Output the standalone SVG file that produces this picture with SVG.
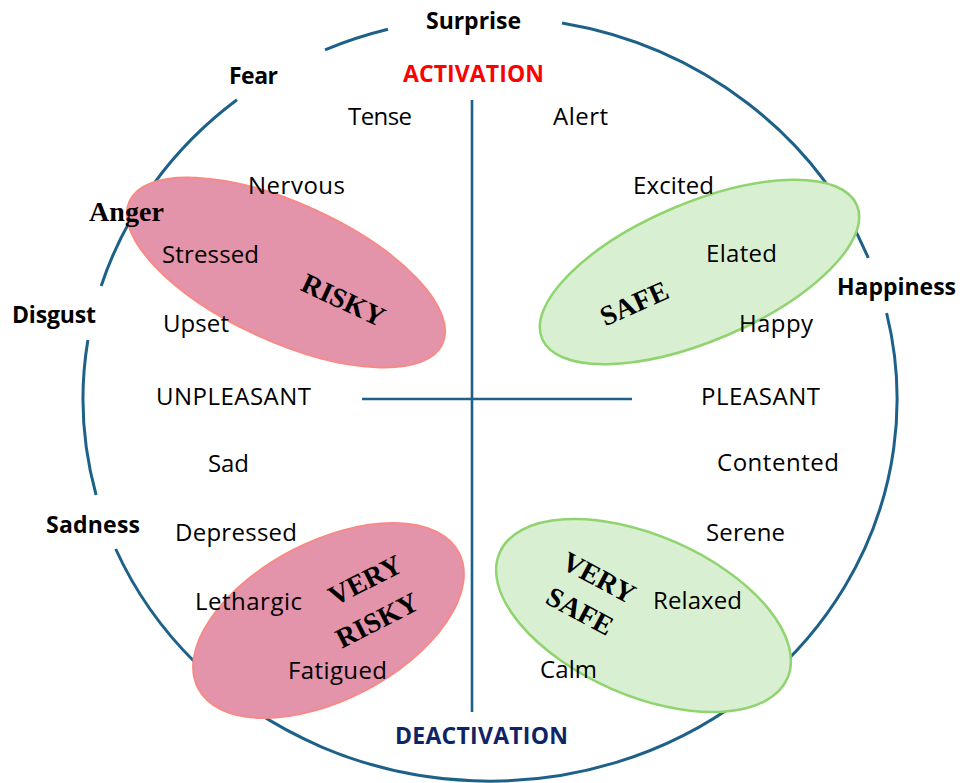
<svg xmlns="http://www.w3.org/2000/svg" width="962" height="783" viewBox="0 0 962 783">
  <style>
    .rim { fill: none; stroke: #1D6189; stroke-width: 3; }
    .axis { stroke: #1D6189; stroke-width: 2.6; }
    .risk { fill: #E393AA; stroke: #F88A85; stroke-width: 2; }
    .safe { fill: #D9EFD1; stroke: #8FD46F; stroke-width: 2.5; }
    .w { font-family: "Open Sans", Lato, "Liberation Sans", sans-serif; font-size: 24px; fill: #000; }
    .b { font-weight: bold; font-size: 23px; }
    .t { font-family: "Liberation Serif", "Times New Roman", serif; font-weight: bold; font-size: 28px; fill: #000; text-anchor: middle; }
  </style>

  <!-- outer emotion wheel, broken where the basic emotions sit -->
  <g id="wheel">
    <path class="rim" d="M562,23 A407,382 0 0 1 868.3,258
                         M886.6,313 A407,382 0 0 1 115.7,549
                         M96.1,495 A407,382 0 0 1 87.9,340
                         M101.2,286 A407,382 0 0 1 237,99.8
                         M325,49.8 A407,382 0 0 1 388,29.2"/>
  </g>

  <!-- valence / arousal axes -->
  <g id="connectors">
    <line class="axis" x1="472" y1="100" x2="472" y2="712"/>
    <line class="axis" x1="362" y1="399" x2="632" y2="399"/>
  </g>

  <!-- risk zones -->
  <g id="zone-risky">
    <ellipse class="risk" cx="286" cy="272.5" rx="172" ry="69" transform="rotate(24.5 286 272.5)"/>
  </g>
  <g id="zone-safe">
    <ellipse class="safe" cx="699.5" cy="272" rx="171" ry="69" transform="rotate(-23 699.5 272)"/>
  </g>
  <g id="zone-very-risky">
    <ellipse class="risk" cx="328.5" cy="620.5" rx="147" ry="79" transform="rotate(-27.5 328.5 620.5)"/>
  </g>
  <g id="zone-very-safe">
    <ellipse class="safe" cx="643.5" cy="615.5" rx="157" ry="80" transform="rotate(23.6 643.5 615.5)"/>
  </g>

  <!-- basic emotions around the rim -->
  <g id="basic-emotions">
    <text class="w b" x="426" y="29" textLength="95">Surprise</text>
    <text class="w b" x="229" y="84" textLength="49">Fear</text>
    <text class="t" x="126.5" y="221" textLength="75">Anger</text>
    <text class="w b" x="12" y="323" textLength="84">Disgust</text>
    <text class="w b" x="837" y="295" textLength="119">Happiness</text>
    <text class="w b" x="46" y="533" textLength="94">Sadness</text>
  </g>

  <!-- axis titles -->
  <g id="axis-titles">
    <text class="w b" x="403" y="82" textLength="141" style="fill:#FF0000">ACTIVATION</text>
    <text class="w b" x="395" y="744" textLength="173" style="fill:#0E2466">DEACTIVATION</text>
    <text class="w" x="156" y="405" textLength="155">UNPLEASANT</text>
    <text class="w" x="701" y="405" textLength="119">PLEASANT</text>
  </g>

  <!-- affect words -->
  <g id="affect-words">
    <text class="w" x="348" y="125" textLength="64">Tense</text>
    <text class="w" x="553" y="125" textLength="55">Alert</text>
    <text class="w" x="248" y="194" textLength="97">Nervous</text>
    <text class="w" x="633" y="194" textLength="81">Excited</text>
    <text class="w" x="162" y="263" textLength="97">Stressed</text>
    <text class="w" x="706" y="262" textLength="71">Elated</text>
    <text class="w" x="163" y="332" textLength="66">Upset</text>
    <text class="w" x="739" y="332" textLength="74">Happy</text>
    <text class="w" x="208" y="472" textLength="41">Sad</text>
    <text class="w" x="717" y="471" textLength="122">Contented</text>
    <text class="w" x="175" y="541" textLength="122">Depressed</text>
    <text class="w" x="706" y="541" textLength="79">Serene</text>
    <text class="w" x="195" y="610" textLength="107">Lethargic</text>
    <text class="w" x="653" y="609" textLength="89">Relaxed</text>
    <text class="w" x="288" y="679" textLength="99">Fatigued</text>
    <text class="w" x="540" y="678" textLength="57">Calm</text>
  </g>

  <!-- zone labels -->
  <g id="zone-labels">
    <text class="t" transform="translate(339.5 308.6) rotate(25)">RISKY</text>
    <text class="t" transform="translate(638 312) rotate(-24)">SAFE</text>
    <text class="t" transform="translate(369.3 588.5) rotate(-27)">VERY</text>
    <text class="t" transform="translate(381.3 628.5) rotate(-27)">RISKY</text>
    <text class="t" transform="translate(594.5 586) rotate(28)">VERY</text>
    <text class="t" transform="translate(575.5 619.4) rotate(28)">SAFE</text>
  </g>
</svg>
